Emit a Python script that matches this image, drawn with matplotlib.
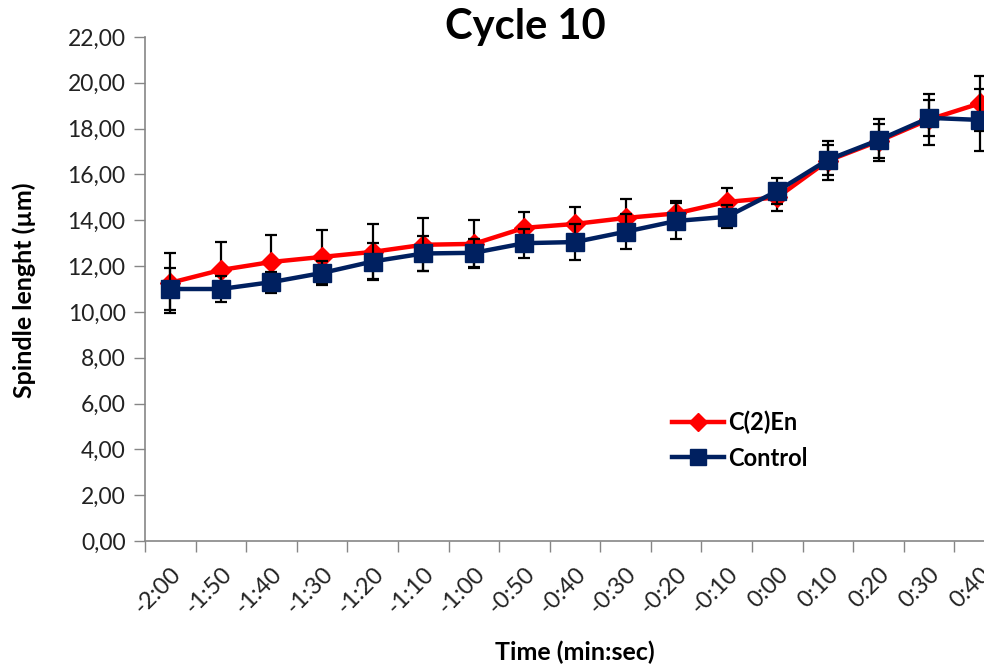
import numpy as np
import matplotlib
matplotlib.use('Agg')
import matplotlib.pyplot as plt
from matplotlib.ticker import FuncFormatter
from matplotlib.lines import Line2D

plt.rcParams['font.family'] = ['Lato', 'DejaVu Sans']

times = ['-2:00', '-1:50', '-1:40', '-1:30', '-1:20', '-1:10', '-1:00', '-0:50', '-0:40',
         '-0:30', '-0:20', '-0:10', '0:00', '0:10', '0:20', '0:30', '0:40']

c2en = [11.27, 11.83, 12.18, 12.40, 12.62, 12.93, 12.97, 13.67, 13.84,
        14.10, 14.30, 14.80, 15.00, 16.60, 17.45, 18.40, 19.10]
c2en_err = [1.30, 1.20, 1.17, 1.18, 1.20, 1.15, 1.06, 0.70, 0.72,
            0.83, 0.55, 0.63, 0.58, 0.85, 0.75, 1.10, 1.20]

control = [11.00, 11.00, 11.30, 11.70, 12.20, 12.55, 12.58, 13.00, 13.05,
           13.50, 13.97, 14.15, 15.28, 16.64, 17.50, 18.47, 18.38]
control_err = [0.90, 0.58, 0.46, 0.52, 0.80, 0.75, 0.60, 0.63, 0.78,
               0.76, 0.78, 0.50, 0.55, 0.66, 0.90, 0.80, 1.35]

red = '#ff0000'
navy = '#002060'

fig = plt.figure(figsize=(9.84, 6.68), dpi=100)
# axes runs past the right edge, like the cropped original
ax = fig.add_axes([145/984, 1 - 541/668, 860/984, (541 - 37)/668])

x = np.arange(len(times))

ax.errorbar(x, c2en, yerr=c2en_err, color=red, lw=3.2, marker='D', markersize=10,
            markeredgecolor=red, ecolor='black', elinewidth=1.6, capsize=4.5, capthick=1.6,
            zorder=3)
ax.errorbar(x, control, yerr=control_err, color=navy, lw=3.2, marker='s', markersize=13,
            markeredgecolor=navy, ecolor='black', elinewidth=1.6, capsize=4.5, capthick=1.6,
            zorder=4)

ax.set_ylim(0, 22)
ax.set_yticks(np.arange(0, 23, 2))
ax.yaxis.set_major_formatter(FuncFormatter(lambda v, pos: f"{v:.2f}".replace('.', ',')))
ax.set_xlim(-0.5, len(times) - 0.5)
ax.set_xticks(x)
ax.set_xticklabels(times, rotation=45, ha='right', va='top', rotation_mode='anchor')
ax.set_xticks(np.arange(-0.5, len(times), 1), minor=True)
ax.tick_params(axis='x', which='major', length=0, pad=16, labelsize=17, labelcolor='#222222')
ax.tick_params(axis='x', which='minor', length=8, color='#868686', width=1)
ax.tick_params(axis='y', length=8, color='#868686', width=1, labelsize=16.5, pad=6,
               labelcolor='#222222')

for s in ['top', 'right']:
    ax.spines[s].set_visible(False)
for s in ['left', 'bottom']:
    ax.spines[s].set_color('#868686')
    ax.spines[s].set_linewidth(1.2)

fig.text(575/984, 1 - 652/668, 'Time (min:sec)', ha='center', va='center',
         fontsize=18, fontweight='bold')
fig.text(24/984, 1 - 290/668, 'Spindle lenght (µm)', ha='center', va='center',
         rotation=90, fontsize=18, fontweight='bold')
fig.text(525/984, 1 - 27/668, 'Cycle 10', ha='center', va='center', fontsize=30, fontweight='bold')

handles = [Line2D([], [], color=red, lw=3.2, marker='D', markersize=9),
           Line2D([], [], color=navy, lw=3.2, marker='s', markersize=11)]
ax.legend(handles, ['C(2)En', 'Control'], loc='center left',
          bbox_to_anchor=(651/984, 1 - 440/668), bbox_transform=fig.transFigure,
          frameon=False, handlelength=2.2, handletextpad=0.15, labelspacing=0.55,
          prop={'size': 17, 'weight': 'bold'})

fig.savefig('out.png', dpi=100)
